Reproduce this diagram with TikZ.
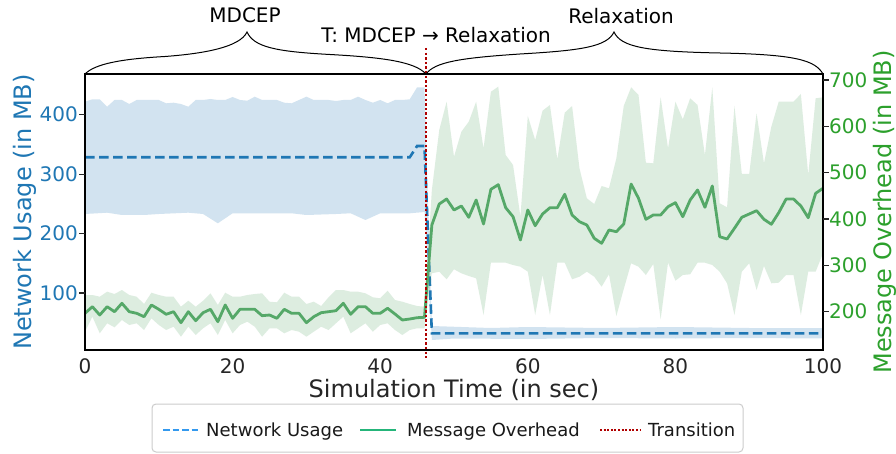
\documentclass[tikz,border=0pt]{standalone}
\usepackage{fontspec}
\setmainfont{DejaVu Sans}
\definecolor{nublue}{HTML}{1F77B4}
\definecolor{ovgreen}{HTML}{55A868}
\definecolor{axgreen}{HTML}{2CA02C}
\definecolor{trred}{HTML}{B00000}
\definecolor{txtdark}{HTML}{262626}
\definecolor{legblue}{HTML}{3399EE}
\definecolor{leggreen}{HTML}{25B57A}
\definecolor{legframe}{HTML}{CCCCCC}
\begin{document}
\begin{tikzpicture}[x=1pt,y=-1pt,
  lblx/.style={font=\fontsize{20}{24}\selectfont, text=txtdark, inner sep=0pt, anchor=base},
  lbll/.style={font=\fontsize{20}{24}\selectfont, text=nublue, inner sep=0pt, anchor=east},
  lblr/.style={font=\fontsize{20}{24}\selectfont, text=axgreen, inner sep=0pt, anchor=west},
  axlabel/.style={font=\fontsize{24}{28}\selectfont, inner sep=0pt},
  phase/.style={font=\fontsize{20}{24}\selectfont, inner sep=0pt, anchor=base},
  legtext/.style={font=\fontsize{18}{22}\selectfont, inner sep=0pt, anchor=base west, text=black!90},
  bracepath/.style={line width=1pt, black},
  tickmark/.style={line width=1.1pt, txtdark},
  bandblue/.style={fill=nublue, fill opacity=0.2},
  bandgreen/.style={fill=ovgreen, fill opacity=0.2},
  usageline/.style={nublue, line width=2.6pt, dash pattern=on 9.5pt off 4.5pt},
  overheadline/.style={ovgreen, line width=2.8pt, line join=round},
  transline/.style={trred, line width=2.6pt, dash pattern=on 2.4pt off 2.2pt}]
\useasboundingbox (0,0) rectangle (896,454);
\fill[white] (0,0) rectangle (896,454);

% ---------- data (x in seconds, y in points from top) ----------
\begin{scope}[xshift=85pt, x=7.38pt]
  % network usage band
  \path[bandblue] plot coordinates {(0,101.7)(1,99.3)(2,99.3)(3,106.7)(4,100)(5,100)(6,104)(7,100)(8,100)(9,100)(10,100)(11,103.3)(12,102.7)(13,104)(14,106.7)(15,100)(16,100)(17,99)(18,100)(19,100)(20,97)(21,100)(22,100.7)(23,96.7)(24,100)(25,100)(26,100)(27,102.7)(28,103.3)(29,100)(30,96.7)(31,100)(32,100)(33,100)(34,101)(35,100)(36,100)(37,96.7)(38,100)(39,102.7)(40,100)(41,103.3)(42,100)(43,100)(44,99.3)(45,87.3)(46,87.3)(47,326)(55,328)(60,327)(70,328)(80,327)(90,328)(100,328)
    (100,338.5)(90,338)(80,338.5)(70,338)(60,339)(50,338.5)(47,340)(46,212)(44,213.3)(40,213.3)(38,220)(36,213.3)(34,214)(30,215)(28,213.3)(20,213.3)(18,223.3)(16,214)(14,212.7)(10,214)(8,215)(5,215)(3,212.7)(0,214)} -- cycle;
  % network usage mean
  \draw[usageline] (0,157.3) -- (44,157.3) -- (45,146) -- (46,146) -- (47,333.3) -- (100,333.3);
  % message overhead band
  \path[bandgreen] plot coordinates {(0,295)(1,295)(2,296.7)(3,291.7)(4,294)(5,290)(6,295)(7,296.7)(8,304)(9,292.7)(10,295)(11,296.7)(12,296.7)(13,306.7)(14,300.7)(15,306.7)(16,300.7)(17,293.3)(18,305)(19,292.7)(20,296.7)(21,296.7)(22,295)(23,294)(24,293.3)(25,301.7)(26,302.3)(27,292.7)(28,296.7)(29,296.7)(30,304)(31,301.7)(32,306)(33,297.3)(34,290)(35,290)(36,291.7)(37,291.7)(38,293.3)(39,297.3)(40,298.3)(41,290.7)(42,300)(43,301.7)(44,304)(45,306)(46,306.7)(47,190)(48,130)(49,101.7)(50,156.7)(51,131.7)(52,121.7)(53,101.7)(54,148.3)(55,91.7)(56,86.7)(57,155)(58,165)(59,216.7)(60,116)(61,140)(62,110.7)(63,105)(64,159.3)(65,112.7)(66,106)(67,168.3)(68,198.3)(69,204)(70,186)(71,188.3)(72,158.3)(73,106)(74,87.3)(75,95)(76,162.7)(77,163.3)(78,97.3)(79,148.3)(80,101.7)(81,119.3)(82,98.3)(83,105)(84,155)(85,87.3)(86,203.3)(87,207.3)(88,106)(89,174)(90,174)(91,113.3)(92,163.3)(93,126.7)(94,101.7)(95,101.7)(96,101.7)(97,94)(98,175)(99,98.3)(100,97.3)
    (100,253.3)(99,271.7)(98,271.7)(97,315)(96,275)(95,275)(94,282.7)(93,283.3)(92,266)(91,290)(90,263.3)(89,271.7)(88,315)(87,283.3)(86,271.7)(85,265)(84,262.7)(83,262.7)(82,274.3)(81,275)(80,280.7)(79,262.7)(78,319.3)(77,264)(76,275)(75,266.7)(74,263.3)(73,289)(72,316)(71,274.3)(70,286.7)(69,276.7)(68,271.7)(67,276.7)(66,279.3)(65,262.7)(64,262.7)(63,315)(62,275)(61,315)(60,271.7)(59,266.7)(58,265)(57,262.7)(56,262.7)(55,262.7)(54,315)(53,278.3)(52,276)(51,273.3)(50,269.3)(49,279.3)(48,271.7)(47,273.3)(46,328.3)(45,328.3)(44,330)(43,335)(42,330)(41,323.3)(40,325)(39,331.7)(38,323.3)(37,328.3)(36,333.3)(35,316.7)(34,323.3)(33,330)(32,326.7)(31,331.7)(30,336.7)(29,331.7)(28,330)(27,333.3)(26,328.3)(25,328.3)(24,336.7)(23,326.7)(22,321.7)(21,325)(20,333.3)(19,320)(18,335)(17,323.3)(16,328.3)(15,335)(14,326.7)(13,336.7)(12,326.7)(11,330)(10,325)(9,318.3)(8,330)(7,323.3)(6,325)(5,320)(4,327.3)(3,323.3)(2,333.3)(1,316.7)(0,331.7)} -- cycle;
  % message overhead mean
  \draw[overheadline] plot coordinates {(0,313.3)(1,306.7)(2,315)(3,306.7)(4,311.7)(5,303.3)(6,311.7)(7,313.3)(8,316.7)(9,305)(10,309.3)(11,314.3)(12,311.7)(13,322.7)(14,311.7)(15,320.7)(16,312.7)(17,309.3)(18,321.7)(19,305)(20,318.3)(21,309.3)(22,309.3)(23,309.3)(24,315.7)(25,315)(26,318.3)(27,309.3)(28,313.3)(29,313.3)(30,322.7)(31,316.7)(32,312.7)(33,311.7)(34,310.7)(35,303.3)(36,314.3)(37,306.7)(38,306.7)(39,313.3)(40,313.3)(41,308.3)(42,314)(43,320)(44,319)(45,317.7)(46,317.3)(47,225)(48,204)(49,199)(50,210)(51,206)(52,217.3)(53,200)(54,224)(55,189.3)(56,184.7)(57,207.7)(58,216.7)(59,240)(60,210)(61,225.7)(62,214)(63,207.7)(64,207.7)(65,194.3)(66,215)(67,221.7)(68,225)(69,238.3)(70,243.3)(71,230)(72,231.7)(73,224)(74,184)(75,198.3)(76,219.3)(77,215)(78,215)(79,206.7)(80,202.7)(81,216.7)(82,200)(83,190)(84,207.3)(85,186)(86,236.7)(87,239)(88,228.3)(89,217.3)(90,214)(91,210.7)(92,219.3)(93,224.3)(94,212.7)(95,199)(96,199)(97,206)(98,217.7)(99,193.3)(100,188.3)};
\end{scope}

% ---------- axes frame and ticks ----------
\draw[line width=1.1pt, black] (85,74) rectangle (823,350);
\foreach \yy in {114.7,174.1,233.6,293} \draw[tickmark] (79,\yy) -- (85,\yy);
\foreach \yy in {80,126.3,172.7,219,265.4,311.7} \draw[tickmark] (823,\yy) -- (829,\yy);

\node[lbll] (yl400) at (78,114.7) {400};
\node[lbll] (yl300) at (78,174.1) {300};
\node[lbll] (yl200) at (78,233.6) {200};
\node[lbll] (yl100) at (78,293) {100};

\node[lblr] (yr700) at (829,80) {700};
\node[lblr] (yr600) at (829,126.3) {600};
\node[lblr] (yr500) at (829,172.7) {500};
\node[lblr] (yr400) at (829,219) {400};
\node[lblr] (yr300) at (829,265.4) {300};
\node[lblr] (yr200) at (829,311.7) {200};

\node[lblx] (xt0) at (85,373) {0};
\node[lblx] (xt20) at (232.6,373) {20};
\node[lblx] (xt40) at (380.2,373) {40};
\node[lblx] (xt60) at (527.8,373) {60};
\node[lblx] (xt80) at (675.4,373) {80};
\node[lblx] (xt100) at (823,373) {100};

\node[axlabel, text=txtdark, anchor=base] (xlab) at (454,397) {Simulation Time (in sec)};
\node[axlabel, text=nublue, rotate=90, anchor=base] (ylab) at (31,212) {Network Usage (in MB)};
\node[axlabel, text=axgreen, rotate=90, anchor=base] (y2lab) at (891,212) {Message Overhead (in MB)};

% ---------- transition marker ----------
\coordinate (trtop) at (426,48);
\coordinate (trbot) at (426,358);
\draw[transline] (trtop) -- (trbot);

% ---------- phase braces ----------
\coordinate (b1l) at (85,74);
\coordinate (b1t) at (247,32);
\coordinate (b1r) at (426,74);
\coordinate (b2t) at (614,32);
\coordinate (b2r) at (823,74);
\draw[bracepath] (b1l) .. controls (95,64) and (120,59) .. (165,56.5)
  .. controls (205,53.5) and (240,47) .. (b1t)
  .. controls (254,47) and (275,51.5) .. (330,54.5)
  .. controls (385,57.5) and (415,62) .. (b1r);
\draw[bracepath] (b1r) .. controls (435,62) and (460,58) .. (520,54)
  .. controls (580,50.5) and (607,47) .. (b2t)
  .. controls (621,47) and (645,51.5) .. (720,53)
  .. controls (795,54.5) and (815,60) .. (b2r);

\node[phase] (ph1) at (245,22.7) {MDCEP};
\node[phase] (ph2) at (621,23.3) {Relaxation};
\node[phase] (ptr) at (436,42.3) {T: MDCEP → Relaxation};

% ---------- legend ----------
\draw[legframe, line width=1pt, rounded corners=4pt, fill=white] (152,404) rectangle (743,452);
\coordinate (lg1a) at (163,430); \coordinate (lg1b) at (199,430);
\coordinate (lg2a) at (360,430); \coordinate (lg2b) at (396,430);
\coordinate (lg3a) at (600,430); \coordinate (lg3b) at (640,430);
\draw[legblue, line width=2pt, dash pattern=on 6.5pt off 3pt] (lg1a) -- (lg1b);
\draw[leggreen, line width=2pt] (lg2a) -- (lg2b);
\draw[trred, line width=2pt, dash pattern=on 2pt off 1.6pt] (lg3a) -- (lg3b);
\node[legtext] (lt1) at (206,436.5) {Network Usage};
\node[legtext] (lt2) at (407,436.5) {Message Overhead};
\node[legtext] (lt3) at (648,436.5) {Transition};
\end{tikzpicture}
\end{document}
